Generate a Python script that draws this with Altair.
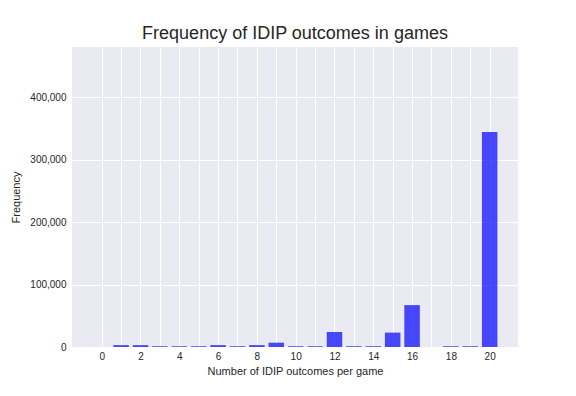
import altair as alt
import pandas as pd

outcomes = list(range(0, 21))
frequencies = [0, 3000, 3000, 1200, 1200, 1200, 3000, 1200, 3000, 6900,
               1200, 1200, 24000, 1200, 1200, 23000, 67000, 0, 1200, 1200, 344000]
x_ticks = list(range(0, 21))
y_ticks = [0, 100000, 200000, 300000, 400000]

df = pd.DataFrame({"outcome": outcomes, "freq": frequencies})

font = "Liberation Sans"

chart = alt.Chart(df).transform_calculate(
    x0="datum.outcome - 0.4", x1="datum.outcome + 0.4"
).mark_bar(color="#0000ff", opacity=0.7).encode(
    x=alt.X("x0:Q", scale=alt.Scale(domain=[-1.53, 21.46], nice=False, zero=False),
            axis=alt.Axis(values=x_ticks, title="Number of IDIP outcomes per game",
                          labelExpr="datum.value % 2 == 0 ? datum.label : ''",
                          grid=True, ticks=False, domain=False, labelPadding=4,
                          titlePadding=4)),
    x2="x1:Q",
    y=alt.Y("freq:Q", scale=alt.Scale(domain=[0, 480000], nice=False),
            axis=alt.Axis(values=y_ticks, title="Frequency", format=",.0f",
                          grid=True, ticks=False, domain=False, labelPadding=6,
                          titlePadding=8)),
    y2=alt.datum(0),
).properties(
    width=446, height=300,
    background="white",
    title=alt.TitleParams("Frequency of IDIP outcomes in games", fontSize=18,
                          font=font, fontWeight="normal", color="#262626", offset=4),
    autosize=alt.AutoSizeParams(type="none"),
    padding={"left": 64, "top": 39, "right": 50, "bottom": 41},
).configure_view(
    fill="#EAEAF2", stroke=None
).configure_axis(
    gridColor="white", gridWidth=1, gridOpacity=1,
    labelFont=font, titleFont=font, labelFontSize=10, titleFontSize=11,
    labelColor="#262626", titleColor="#262626", titleFontWeight="normal",
)

chart.save("out.html", embed_options={"renderer": "svg", "actions": False})
